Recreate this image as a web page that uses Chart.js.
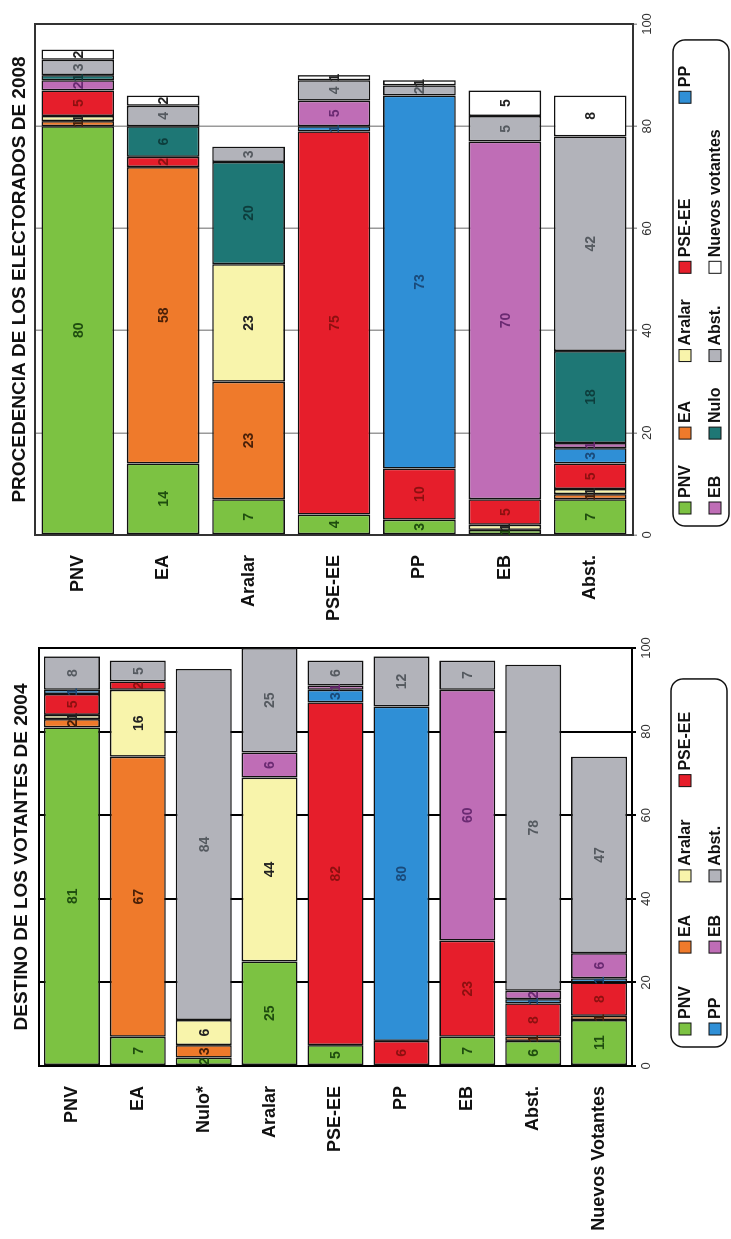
<!DOCTYPE html>
<html>
<head>
<meta charset="utf-8">
<script src="https://cdn.jsdelivr.net/npm/chart.js@4.4.1/dist/chart.umd.min.js"></script>
<style>
  body { margin: 0; background: #fff; width: 731px; height: 1239px; overflow: hidden; position: relative; }
  .rot { position: absolute; left: 0; top: 0; transform-origin: 0 0; }
  #box08 { width: 620px; height: 731px; transform: translateY(620px) rotate(-90deg); }
  #box04 { width: 619px; height: 731px; transform: translateY(1239px) rotate(-90deg); }
</style>
</head>
<body>
<div class="rot" id="box08"><canvas id="chart08" width="620" height="731"></canvas></div>
<div class="rot" id="box04"><canvas id="chart04" width="619" height="731"></canvas></div>
<script>
const FONT = '"Liberation Sans", Arial, sans-serif';
Chart.defaults.font.family = FONT;

// PROCEDENCIA DE LOS ELECTORADOS DE 2008 (%)
const cats2008 = ['PNV', 'EA', 'Aralar', 'PSE-EE', 'PP', 'EB', 'Abst.'];
const pnv08    = [80, 14,  7,  4,  3,  1,  7];
const ea08     = [ 1, 58, 23,  0,  0,  0,  1];
const aralar08 = [ 1,  0, 23,  0,  0,  1,  1];
const pse08    = [ 5,  2,  0, 75, 10,  5,  5];
const pp08     = [ 0,  0,  0,  1, 73,  0,  3];
const eb08     = [ 2,  0,  0,  5,  0, 70,  1];
const nulo08   = [ 1,  6, 20,  0,  0,  0, 18];
const abst08   = [ 3,  4,  3,  4,  2,  5, 42];
const nuevos08 = [ 2,  2,  0,  1,  1,  5,  8];

// DESTINO DE LOS VOTANTES DE 2004 (%)
const cats2004 = ['PNV', 'EA', 'Nulo*', 'Aralar', 'PSE-EE', 'PP', 'EB', 'Abst.', 'Nuevos Votantes'];
const pnv04    = [81,  7,  2, 25,  5,  0,  7,  6, 11];
const ea04     = [ 2, 67,  3,  0,  0,  0,  0,  1,  1];
const aralar04 = [ 1, 16,  6, 44,  0,  0,  0,  0,  0];
const pse04    = [ 5,  2,  0,  0, 82,  6, 23,  8,  8];
const pp04     = [ 1,  0,  0,  0,  3, 80,  0,  1,  1];
const eb04     = [ 0,  0,  0,  6,  1,  0, 60,  2,  6];
const abst04   = [ 8,  5, 84, 25,  6, 12,  7, 78, 47];

const colors = {
  'PNV':    ['#7cc242', '#1f4d0f'],
  'EA':     ['#ef7a2b', '#4a2008'],
  'Aralar': ['#f8f4ab', '#222222'],
  'PSE-EE': ['#e61e2b', '#8c1010'],
  'PP':     ['#2f8fd6', '#1a4a7a'],
  'EB':     ['#bf6db6', '#6a2a72'],
  'Nulo':   ['#1e7775', '#0d3d3c'],
  'Abst.':  ['#b2b3ba', '#555a60'],
  'Nuevos votantes': ['#ffffff', '#222222']
};

const framePlugin = {
  id: 'frame',
  beforeDatasetsDraw(chart, args, opts) {
    const a = chart.chartArea, ctx = chart.ctx;
    ctx.save();
    ctx.strokeStyle = opts.color;
    ctx.lineWidth = opts.width;
    ctx.strokeRect(a.left, a.top, a.right - a.left, a.bottom - a.top);
    ctx.restore();
  }
};

const segLabels = {
  id: 'segLabels',
  afterDatasetsDraw(chart) {
    const ctx = chart.ctx;
    ctx.save();
    ctx.font = 'bold 14px ' + FONT;
    ctx.textAlign = 'center';
    ctx.textBaseline = 'middle';
    chart.data.datasets.forEach((ds, i) => {
      chart.getDatasetMeta(i).data.forEach((bar, j) => {
        const v = ds.data[j];
        if (!v) return;
        const p = bar.getProps(['x', 'base', 'y'], true);
        ctx.fillStyle = ds.labelColor;
        ctx.fillText(v, (p.x + p.base) / 2, p.y + 1);
      });
    });
    ctx.restore();
  }
};

const gridLegend = {
  id: 'gridLegend',
  afterDraw(chart, args, o) {
    const ctx = chart.ctx, area = chart.chartArea;
    const sets = chart.data.datasets;
    const sq = 12, sp = 4;
    ctx.save();
    ctx.font = 'bold 16px ' + FONT;
    const rows = [];
    for (let i = 0; i < sets.length; i += o.perRow) rows.push(sets.slice(i, i + o.perRow));
    const colW = [];
    rows.forEach(r => r.forEach((ds, c) => {
      colW[c] = Math.max(colW[c] || 0, sq + sp + ctx.measureText(ds.label).width);
    }));
    const x0 = area.left + o.left;
    const xs = [x0 + 12];
    for (let c = 1; c < colW.length; c++) xs[c] = xs[c - 1] + colW[c - 1] + o.gap;
    let end = 0;
    rows.forEach(r => r.forEach((ds, c) => {
      end = Math.max(end, xs[c] + sq + sp + ctx.measureText(ds.label).width);
    }));
    const top = area.bottom + o.top, bottom = area.bottom + o.bottom;
    ctx.beginPath();
    ctx.roundRect(x0, top, end + o.gap - x0, bottom - top, 12);
    ctx.lineWidth = 1.5;
    ctx.strokeStyle = '#111';
    ctx.stroke();
    ctx.textAlign = 'left';
    ctx.textBaseline = 'middle';
    rows.forEach((r, ri) => {
      const y = area.bottom + o.rowY[ri];
      r.forEach((ds, c) => {
        ctx.fillStyle = ds.backgroundColor;
        ctx.fillRect(xs[c], y - sq / 2, sq, sq);
        ctx.lineWidth = 1;
        ctx.strokeStyle = '#111';
        ctx.strokeRect(xs[c], y - sq / 2, sq, sq);
        ctx.fillStyle = '#111';
        ctx.fillText(ds.label, xs[c] + sq + sp, y + 1);
      });
    });
    ctx.restore();
  }
};

function makeSets(names, values) {
  return names.map((name, i) => ({
    label: name,
    data: values[i].map(v => v === 0 ? null : v),
    backgroundColor: colors[name][0],
    labelColor: colors[name][1],
    borderColor: '#111',
    borderWidth: 1.6,
    borderSkipped: false,
    barPercentage: 0.85,
    categoryPercentage: 1
  }));
}

function buildChart(id, cats, sets, opt) {
  return new Chart(document.getElementById(id), {
    type: 'bar',
    data: { labels: cats, datasets: sets },
    options: {
      indexAxis: 'y',
      responsive: false,
      animation: false,
      layout: { padding: { top: 0, left: 0, bottom: 0, right: opt.padRight } },
      plugins: {
        legend: { display: false },
        tooltip: { enabled: false },
        title: {
          display: true,
          text: opt.title,
          fullSize: false,
          color: '#111',
          font: { size: 19, weight: 'bold' },
          padding: opt.titlePad
        },
        frame: { color: opt.frameColor, width: 2 },
        gridLegend: opt.legend
      },
      scales: {
        x: {
          stacked: true,
          min: 0,
          max: 100,
          ticks: { stepSize: 20, color: '#333', font: { size: 13 }, padding: 3 },
          grid: { color: opt.gridColor, lineWidth: opt.gridWidth, tickLength: 4 },
          border: { display: false },
          afterFit(s) { s.height = opt.xH; }
        },
        y: {
          stacked: true,
          ticks: { color: '#111', font: { size: 18, weight: 'bold' }, padding: 12 },
          grid: { display: false },
          border: { display: false },
          afterFit(s) { s.width = opt.yW; }
        }
      }
    },
    plugins: [framePlugin, segLabels, gridLegend]
  });
}

buildChart('chart08', cats2008,
  makeSets(['PNV', 'EA', 'Aralar', 'PSE-EE', 'PP', 'EB', 'Nulo', 'Abst.', 'Nuevos votantes'],
           [pnv08, ea08, aralar08, pse08, pp08, eb08, nulo08, abst08, nuevos08]),
  {
    title: 'PROCEDENCIA DE LOS ELECTORADOS DE 2008',
    titlePad: { top: 8.5, bottom: 3.7 },
    padRight: 24, xH: 98, yW: 85,
    frameColor: '#333', gridColor: '#9a9a9a', gridWidth: 1.5,
    legend: { perRow: 5, left: 9, gap: 26, top: 40, bottom: 96, rowY: [52, 82] }
  });

buildChart('chart04', cats2004,
  makeSets(['PNV', 'EA', 'Aralar', 'PSE-EE', 'PP', 'EB', 'Abst.'],
           [pnv04, ea04, aralar04, pse04, pp04, eb04, abst04]),
  {
    title: 'DESTINO DE LOS VOTANTES DE 2004',
    titlePad: { top: 10.5, bottom: 5.7 },
    padRight: 28, xH: 99, yW: 173,
    frameColor: '#000', gridColor: '#000', gridWidth: 2,
    legend: { perRow: 4, left: 19, gap: 33, top: 39, bottom: 95, rowY: [53, 83] }
  });
</script>
</body>
</html>
